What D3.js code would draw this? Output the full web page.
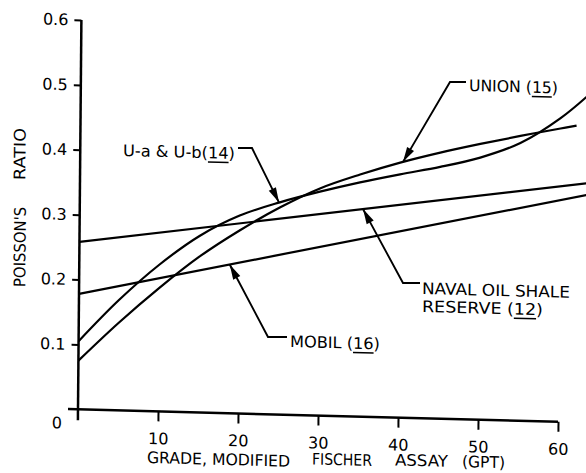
<!DOCTYPE html>
<html>
<head>
<meta charset="utf-8">
<script src="https://cdn.jsdelivr.net/npm/d3@7"></script>
<style>
  html, body { margin: 0; padding: 0; background: #fff; }
  svg { display: block; }
</style>
</head>
<body>
<script>
// Poisson's ratio versus oil-shale grade (modified Fischer assay, gallons per ton)

// U-a & U-b (14)
const uabGrade = [0, 5, 10, 15, 20, 25, 30, 35, 40, 45, 50, 55, 60, 63.5];
const uabRatio = [0.105, 0.170, 0.226, 0.272, 0.305, 0.327, 0.345, 0.361, 0.375, 0.388, 0.404, 0.428, 0.468, 0.505];

// Union (15)
const unionGrade = [0, 5, 10, 15, 20, 25, 30, 35, 40, 45, 50, 55, 60, 62];
const unionRatio = [0.075, 0.135, 0.190, 0.240, 0.282, 0.319, 0.350, 0.373, 0.393, 0.410, 0.425, 0.439, 0.452, 0.457];

// Naval Oil Shale Reserve (12)
const navalGrade = [0, 63.5];
const navalRatio = [0.258, 0.369];

// Mobil (16)
const mobilGrade = [0, 63.5];
const mobilRatio = [0.178, 0.351];

// Axis ticks
const xTicks = [10, 20, 30, 40, 50, 60];
const xTickLabels = ["10", "20", "30", "40", "50", "60"];
const yTicks = [0.1, 0.2, 0.3, 0.4, 0.5, 0.6];
const yTickLabels = ["0.1", "0.2", "0.3", "0.4", "0.5", "0.6"];
const originLabel = "0";

const W = 586, H = 473;
const ox = 78, oy = 409.3;           // plot origin
const kx = -0.0087, ky = 0.026;       // slight shear of the sheet

const FONT = "DejaVu Sans";

const x = d3.scaleLinear().domain([0, 60]).range([ox, 558]);
const y = d3.scaleLinear().domain([0, 0.6]).range([oy, 20]);

// screen position -> sheared group position
function unskew(sx, sy) {
  const det = 1 - kx * ky;
  const u = sx - ox, v = sy - oy;
  return [ox + (u - kx * v) / det, oy + (v - ky * u) / det];
}

const svg = d3.select("body").append("svg")
  .attr("width", W).attr("height", H)
  .attr("viewBox", `0 0 ${W} ${H}`);

svg.append("rect").attr("width", W).attr("height", H).attr("fill", "#fff");

const g = svg.append("g")
  .attr("transform", `matrix(1,${ky},${kx},1,${-kx * oy},${-ky * ox})`);

// ---- axes ----
const yAxis = g.append("g")
  .attr("transform", `translate(${ox},0)`)
  .call(d3.axisLeft(y).tickValues(yTicks)
    .tickFormat((d, i) => yTickLabels[i])
    .tickSize(7).tickSizeOuter(0).tickPadding(6));
yAxis.select(".domain").remove();

const xAxis = g.append("g")
  .attr("transform", `translate(0,${oy})`)
  .call(d3.axisBottom(x).tickValues(xTicks)
    .tickFormat((d, i) => xTickLabels[i])
    .tickSize(10).tickSizeOuter(0).tickPadding(11.5));
xAxis.select(".domain").remove();

[yAxis, xAxis].forEach(a => {
  a.attr("font-family", FONT).attr("font-size", 16);
  a.selectAll(".tick line").attr("stroke", "#000").attr("stroke-width", 2);
  a.selectAll(".tick text").attr("fill", "#000").attr("font-size", 16);
});

g.append("line")
  .attr("x1", ox).attr("x2", ox)
  .attr("y1", y(0.6)).attr("y2", oy + 11)
  .attr("stroke", "#000").attr("stroke-width", 2.5);
g.append("line")
  .attr("x1", ox - 10).attr("x2", x(60))
  .attr("y1", oy).attr("y2", oy)
  .attr("stroke", "#000").attr("stroke-width", 2.5);

// origin label
{
  const p = unskew(57, 423);
  g.append("text").attr("x", p[0]).attr("y", p[1])
    .attr("text-anchor", "middle").attr("dominant-baseline", "central")
    .attr("font-family", FONT).attr("font-size", 16).text(originLabel);
}

// axis titles
function title(words, size) {
  words.forEach(w => {
    const p = unskew(w.x, w.y);
    g.append("text").attr("x", p[0]).attr("y", p[1])
      .attr("dominant-baseline", "central")
      .attr("font-family", FONT).attr("font-size", size)
      .attr("textLength", w.len).attr("lengthAdjust", "spacingAndGlyphs")
      .text(w.t);
  });
}
title([
  { t: "GRADE, MODIFIED", x: 147, y: 457.5, len: 143 },
  { t: "FISCHER", x: 312, y: 459, len: 60 },
  { t: "ASSAY", x: 395, y: 460, len: 53 },
  { t: "(GPT)", x: 462, y: 461.5, len: 43 }
], 16);

[{ t: "POISSON'S", cy: 247, len: 80 }, { t: "RATIO", cy: 154, len: 52 }].forEach(w => {
  const p = unskew(20, w.cy);
  g.append("text")
    .attr("transform", `translate(${p[0]},${p[1]}) rotate(-90)`)
    .attr("text-anchor", "middle").attr("dominant-baseline", "central")
    .attr("font-family", FONT).attr("font-size", 16)
    .attr("textLength", w.len).attr("lengthAdjust", "spacingAndGlyphs")
    .text(w.t);
});

// ---- curves ----
const line = d3.line()
  .x(d => x(d[0])).y(d => y(d[1]))
  .curve(d3.curveCatmullRom.alpha(0.5));

const series = {
  uab: d3.zip(uabGrade, uabRatio),
  union: d3.zip(unionGrade, unionRatio),
  naval: d3.zip(navalGrade, navalRatio),
  mobil: d3.zip(mobilGrade, mobilRatio)
};

const paths = {};
Object.entries(series).forEach(([k, data]) => {
  paths[k] = g.append("path")
    .datum(data)
    .attr("d", line)
    .attr("fill", "none").attr("stroke", "#000")
    .attr("stroke-width", 2.2).attr("stroke-linejoin", "round")
    .node();
});

// point on a drawn curve at a given grade
function pointOn(node, grade) {
  const tx = x(grade);
  let lo = 0, hi = node.getTotalLength();
  for (let i = 0; i < 40; i++) {
    const mid = (lo + hi) / 2;
    if (node.getPointAtLength(mid).x < tx) lo = mid; else hi = mid;
  }
  const p = node.getPointAtLength((lo + hi) / 2);
  return [p.x, p.y];
}

// ---- annotations ----
const notes = [
  { key: "union", grade: 40.35, elbow: [450, 82], end: [466, 82],
    lines: [{ x: 469, y: 85, len: 89, parts: ["UNION (", "15", ")"] }] },
  { key: "uab", grade: 24.9, elbow: [252, 148], end: [238, 148],
    lines: [{ x: 123, y: 150, len: 112, parts: ["U-a & U-b(", "14", ")"] }] },
  { key: "naval", grade: 35.4, elbow: [403, 283], end: [420, 283],
    lines: [{ x: 422, y: 288, len: 148, parts: ["NAVAL OIL SHALE"] },
            { x: 422, y: 306, len: 121, parts: ["RESERVE (", "12", ")"] }] },
  { key: "mobil", grade: 18.8, elbow: [268, 337], end: [287, 337],
    lines: [{ x: 290, y: 341, len: 90, parts: ["MOBIL (", "16", ")"] }] }
];

notes.forEach(n => {
  const tip = pointOn(paths[n.key], n.grade);
  const el = unskew(n.elbow[0], n.elbow[1]);
  const en = unskew(n.end[0], n.end[1]);

  g.append("path")
    .attr("d", d3.line()([tip, el, en]))
    .attr("fill", "none").attr("stroke", "#000").attr("stroke-width", 1.9);

  // arrowhead
  const dx = el[0] - tip[0], dy = el[1] - tip[1];
  const L = Math.hypot(dx, dy), ux = dx / L, uy = dy / L;
  const hl = 15, hw = 4;
  const bx = tip[0] + ux * hl, by = tip[1] + uy * hl;
  g.append("path")
    .attr("d", `M${tip[0]},${tip[1]}L${bx - uy * hw},${by + ux * hw}L${bx + uy * hw},${by - ux * hw}Z`)
    .attr("fill", "#000");

  n.lines.forEach(ln => {
    const p = unskew(ln.x, ln.y);
    const t = g.append("text").attr("x", p[0]).attr("y", p[1])
      .attr("dominant-baseline", "central")
      .attr("font-family", FONT).attr("font-size", 16)
      .attr("textLength", ln.len).attr("lengthAdjust", "spacingAndGlyphs");
    ln.parts.forEach((s, i) => {
      const ts = t.append("tspan").text(s);
      if (i === 1) ts.style("text-decoration", "underline");
    });
  });
});
</script>
</body>
</html>
